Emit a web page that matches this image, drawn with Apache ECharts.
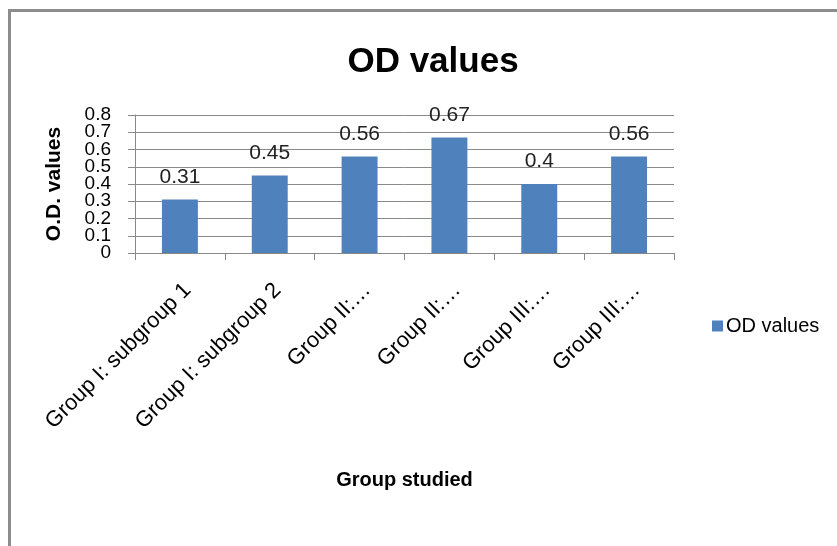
<!DOCTYPE html>
<html>
<head>
<meta charset="utf-8">
<style>
  html, body { margin: 0; padding: 0; background: #fff; }
  #frame { position: absolute; left: 8px; top: 9px; width: 840px; height: 550px;
           border-left: 3px solid #8c8c8c; border-top: 3px solid #8c8c8c; box-sizing: border-box; }
  #chart { position: absolute; left: 0; top: 0; width: 837px; height: 546px; }
</style>
<script src="https://cdn.jsdelivr.net/npm/echarts@6/dist/echarts.min.js"></script>
</head>
<body>
<div id="frame"></div>
<div id="chart"></div>
<script>
// Optical density per study group
const categories = [
  'Group I: subgroup 1',
  'Group I: subgroup 2',
  'Group II:\u2026',
  'Group II:\u2026',
  'Group III:\u2026',
  'Group III:\u2026'
];
const odValues = [0.31, 0.45, 0.56, 0.67, 0.4, 0.56];
const yTicks = [0, 0.1, 0.2, 0.3, 0.4, 0.5, 0.6, 0.7, 0.8];

const FONT = "'Liberation Sans', sans-serif";
const chart = echarts.init(document.getElementById('chart'), null, { renderer: 'canvas' });

// The tick labels sit closer together than their glyph height, so they are
// split across two stacked value axes (even steps / odd steps) to keep all visible.
function tickLabel(parity) {
  return v => {
    const i = yTicks.findIndex(x => Math.abs(x - v) < 1e-9);
    return (i >= 0 && i % 2 === parity) ? String(yTicks[i]) : '';
  };
}
const labelStyle = { margin: 24, fontFamily: FONT, fontSize: 19, color: '#000',
                     showMinLabel: true, showMaxLabel: true };

chart.setOption({
  animation: false,
  backgroundColor: 'transparent',
  title: {
    text: 'OD values',
    left: 428, top: 40, textAlign: 'center',
    textStyle: { fontFamily: FONT, fontSize: 35, fontWeight: 'bold', color: '#000' }
  },
  legend: {
    data: ['OD values'],
    orient: 'vertical',
    left: 707, top: 311,
    itemWidth: 11, itemHeight: 11, itemGap: 0,
    icon: 'rect',
    textStyle: { fontFamily: FONT, fontSize: 20, color: '#000', padding: [0, 0, 0, -2] }
  },
  grid: { left: 135, right: 837 - 674, top: 115, bottom: 546 - 253, containLabel: false },
  xAxis: {
    type: 'category',
    data: categories,
    name: 'Group studied',
    nameLocation: 'middle',
    nameGap: 217,
    nameTextStyle: { fontFamily: FONT, fontSize: 20, fontWeight: 'bold', color: '#000' },
    axisLine: { lineStyle: { color: '#888', width: 1 } },
    axisTick: { show: true, alignWithLabel: false, length: 7, lineStyle: { color: '#888' } },
    axisLabel: {
      rotate: 45, interval: 0, margin: 26, verticalAlign: 'top',
      fontFamily: FONT, fontSize: 22, color: '#000'
    }
  },
  yAxis: [{
    type: 'value',
    position: 'left',
    min: 0, max: 0.8, interval: 0.1,
    name: 'O.D. values',
    nameLocation: 'middle',
    nameGap: 70,
    nameRotate: 90,
    nameTextStyle: { fontFamily: FONT, fontSize: 21, fontWeight: 'bold', color: '#000' },
    axisLine: { show: true, lineStyle: { color: '#888', width: 1 } },
    axisTick: { show: true, length: 7, lineStyle: { color: '#888' } },
    splitLine: { lineStyle: { color: '#8a8a8a', width: 1 } },
    axisLabel: Object.assign({ formatter: tickLabel(0) }, labelStyle)
  }, {
    type: 'value',
    position: 'left',
    offset: 0,
    min: 0, max: 0.8, interval: 0.1,
    axisLine: { show: false },
    axisTick: { show: false },
    splitLine: { show: false },
    axisLabel: Object.assign({ formatter: tickLabel(1) }, labelStyle)
  }],
  series: [{
    name: 'OD values',
    type: 'bar',
    yAxisIndex: 0,
    data: odValues,
    barWidth: '40%',
    itemStyle: { color: '#4f81bd' },
    label: {
      show: true, position: 'top', distance: 12,
      fontFamily: FONT, fontSize: 21, color: '#222'
    }
  }]
});
</script>
</body>
</html>
